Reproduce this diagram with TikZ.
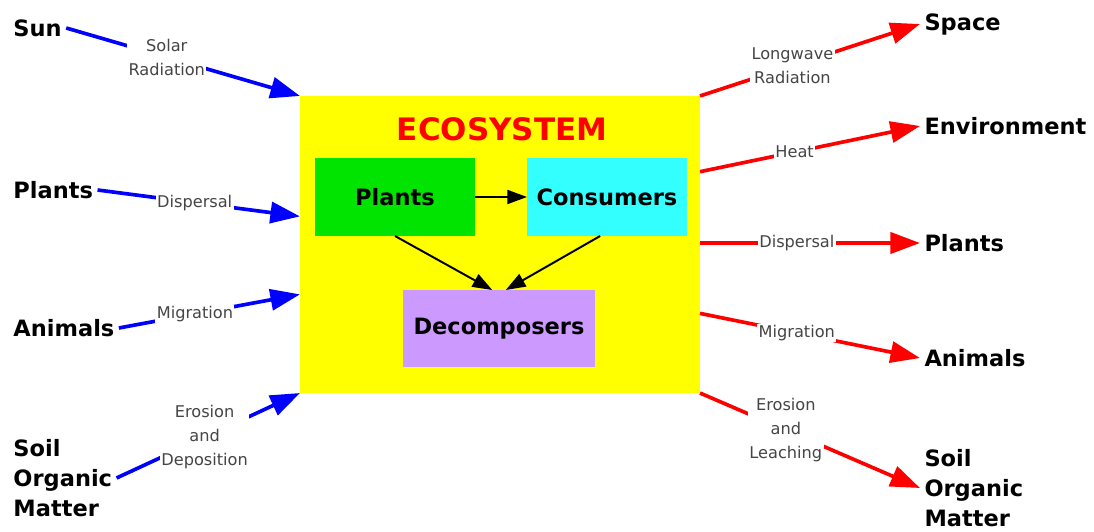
\documentclass[tikz,border=0pt]{standalone}
\usepackage{fontspec}
\setmainfont{DejaVu Sans}
\usepackage{tikz}
\usetikzlibrary{arrows.meta,positioning}
\usepackage{xcolor}
\definecolor{eyellow}{HTML}{FFFF00}
\definecolor{egreen}{HTML}{00E400}
\definecolor{ecyan}{HTML}{33FFFF}
\definecolor{epurple}{HTML}{CC99FF}
\definecolor{egray}{HTML}{454545}
\tikzset{
  place/.style   = {font=\fontsize{16}{21.5}\selectfont\bfseries, align=left,
                    inner sep=3pt, anchor=west},
  flowlbl/.style = {font=\fontsize{11.5}{17}\selectfont, text=egray,
                    fill=white, inner sep=1pt, align=center},
  inflow/.style  = {blue, line width=2.6pt, -{Triangle[length=21pt,width=15pt]}},
  outflow/.style = {red, line width=2.6pt, -{Triangle[length=21pt,width=15pt]}},
  group/.style   = {rectangle, inner sep=0pt, outer sep=0pt,
                    font=\fontsize{16}{20}\selectfont\bfseries},
  link/.style    = {line width=1.4pt, -{Triangle[length=14pt,width=10pt]}},
}

\begin{document}
\begin{tikzpicture}[x=0.025cm,y=-0.025cm]
\useasboundingbox (0,0) rectangle (1094,532);
% the ecosystem box and its members
\node[group, fill=eyellow, minimum width=10cm, minimum height=7.425cm] (eco) at (500,244.5) {};
\node[font=\fontsize{22}{22}\selectfont\bfseries, text=red] (title) at (502,129) {ECOSYSTEM};
\node[group, fill=egreen, minimum width=4cm, minimum height=1.95cm] (plantsI) at (395,197) {Plants};
\node[group, fill=ecyan, minimum width=4cm, minimum height=1.95cm] (consI) at (607,197) {Consumers};
\node[group, fill=epurple, minimum width=4.8cm, minimum height=1.925cm] (decomp) at (499,328.5) {Decomposers};
\draw[link] (plantsI.east) -- (consI.west);
\draw[link] (plantsI.south) -- (decomp.100);
\draw[link] (consI.260) -- (decomp.80);

% sources on the left
\node[place] (sunL) at (9,28) {Sun};
\node[place] (plantsL) at (9,190) {Plants};
\node[place] (animalsL) at (9,328) {Animals};
\node[place] (soilL) at (9,478) {Soil\\Organic\\Matter};
% sinks on the right
\node[place] (spaceR) at (920,24) {Space};
\node[place] (envR) at (920,126) {Environment};
\node[place] (plantsR) at (920,243) {Plants};
\node[place] (animalsR) at (920,358) {Animals};
\node[place] (soilR) at (920,488) {Soil\\Organic\\Matter};

\draw[inflow] (sunL.east) -- node[flowlbl, pos=.43] {Solar\\Radiation} (eco.north west);
\draw[inflow] (plantsL.east) -- node[flowlbl, pos=.48] {Dispersal} (eco.172);
\draw[inflow] (animalsL.east) -- node[flowlbl, pos=.42] {Migration} (eco.194);
\draw[inflow] (soilL.east) -- node[flowlbl, pos=.48] {Erosion\\and\\Deposition} (eco.south west);

\draw[outflow] (eco.north east) -- node[flowlbl, pos=.42] {Longwave\\Radiation} (spaceR.west);
\draw[outflow] (eco.20) -- node[flowlbl, pos=.43] {Heat} (envR.west);
\draw[outflow] (eco.east |- plantsR.west) -- node[flowlbl, pos=.44] {Dispersal} (plantsR.west);
\draw[outflow] (eco.341) -- node[flowlbl, pos=.44] {Migration} (animalsR.west);
\draw[outflow] (eco.south east) -- node[flowlbl, pos=.39] {Erosion\\and\\Leaching} (soilR.west);
\end{tikzpicture}
\end{document}
